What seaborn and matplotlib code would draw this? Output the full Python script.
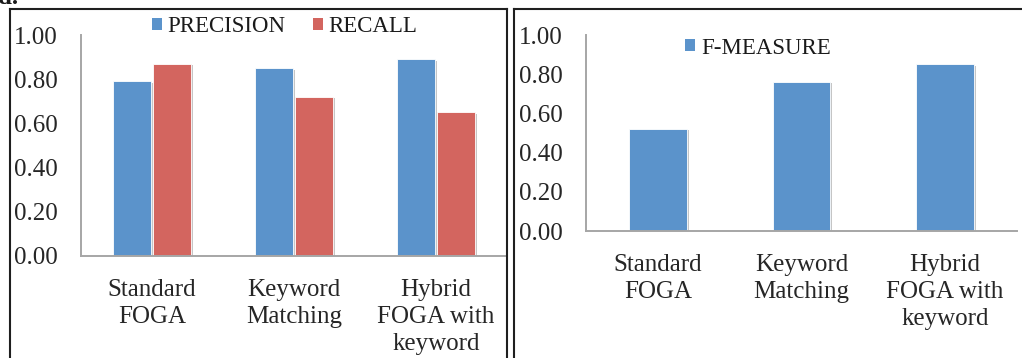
import matplotlib
matplotlib.use("Agg")
import matplotlib.pyplot as plt
import matplotlib.patheffects as pe
from matplotlib.patches import Patch
from matplotlib.lines import Line2D
import seaborn as sns
import pandas as pd

categories = ["Standard\nFOGA", "Keyword\nMatching", "Hybrid\nFOGA with\nkeyword"]
precision = [0.79, 0.85, 0.89]
recall = [0.87, 0.72, 0.65]
fmeasure = [0.52, 0.76, 0.85]
yticks = [0.0, 0.2, 0.4, 0.6, 0.8, 1.0]
ytick_labels = ["0.00", "0.20", "0.40", "0.60", "0.80", "1.00"]

BLUE = "#5B93CB"
RED = "#D3655F"
SPINE = "#A6A6A6"

sns.set_theme(style="white")
plt.rcParams["font.family"] = ["Liberation Serif", "DejaVu Serif"]
plt.rcParams["text.color"] = "#1a1a1a"

W, H = 1022, 358
fig = plt.figure(figsize=(W / 100, H / 100), dpi=100)

def px_axes(x0, y_top, x1, y_bot):
    return fig.add_axes([x0 / W, 1 - y_bot / H, (x1 - x0) / W, (y_bot - y_top) / H])

ax1 = px_axes(81, 35, 507, 256)
ax2 = px_axes(586, 35, 1017, 231)

df = pd.DataFrame({
    "category": categories * 2,
    "metric": ["PRECISION"] * 3 + ["RECALL"] * 3,
    "value": precision + recall,
})

sns.barplot(data=df, x="category", y="value", hue="metric", palette=[BLUE, RED],
            width=0.56, gap=0.05, ax=ax1, legend=False, saturation=1)
sns.barplot(x=categories, y=fmeasure, color=BLUE, width=0.4, ax=ax2, saturation=1)

shadow = [pe.SimplePatchShadow(offset=(1.5, -1), shadow_rgbFace="#808080", alpha=0.45), pe.Normal()]

for ax in (ax1, ax2):
    for p in ax.patches:
        p.set_path_effects(shadow)
        p.set_edgecolor("white")
        p.set_linewidth(0.6)
    ax.set_xlim(-0.5, 2.5)
    ax.set_ylim(0, 1.0)
    ax.set_yticks(yticks)
    ax.set_yticklabels(ytick_labels, fontsize=18)
    ax.set_xticks(range(len(categories)))
    ax.set_xticklabels(categories, fontsize=18, linespacing=1.3)
    ax.set_xlabel("")
    ax.set_ylabel("")
    ax.tick_params(axis="y", length=0, pad=16.5)
    ax.tick_params(axis="x", length=0, pad=16.5)
    for s in ("top", "right"):
        ax.spines[s].set_visible(False)
    for s in ("left", "bottom"):
        ax.spines[s].set_color(SPINE)
        ax.spines[s].set_linewidth(1.4)
    ax.set_facecolor("none")
    ax.grid(False)

h1 = [Patch(facecolor=BLUE, edgecolor="none"), Patch(facecolor=RED, edgecolor="none")]
fig.legend(h1, ["PRECISION", "RECALL"], loc="center", bbox_to_anchor=(285 / W, 1 - 27 / H),
           ncol=2, frameon=False, fontsize=16.5, handlelength=0.42, handleheight=0.42,
           handletextpad=0.25, columnspacing=1.2, borderaxespad=0, borderpad=0)
h2 = [Patch(facecolor=BLUE, edgecolor="none")]
fig.legend(h2, ["F-MEASURE"], loc="center", bbox_to_anchor=(758 / W, 1 - 48 / H),
           ncol=1, frameon=False, fontsize=16.5, handlelength=0.42, handleheight=0.42,
           handletextpad=0.25, borderaxespad=0, borderpad=0)

# panel borders
def fline(xs, ys):
    fig.add_artist(Line2D([x / W for x in xs], [1 - y / H for y in ys],
                          color="#1f1f1f", linewidth=1.5, solid_capstyle="projecting"))

fline([10, 10], [9, 365])
fline([10, 507], [9, 9])
fline([507, 507], [9, 365])
fline([514, 514], [9, 365])
fline([514, 1030], [9, 9])

fig.text(-2 / W, 1 - 4 / H, "d.", fontsize=18, fontweight="bold", va="baseline", ha="left")

fig.savefig("out.png", dpi=100)
